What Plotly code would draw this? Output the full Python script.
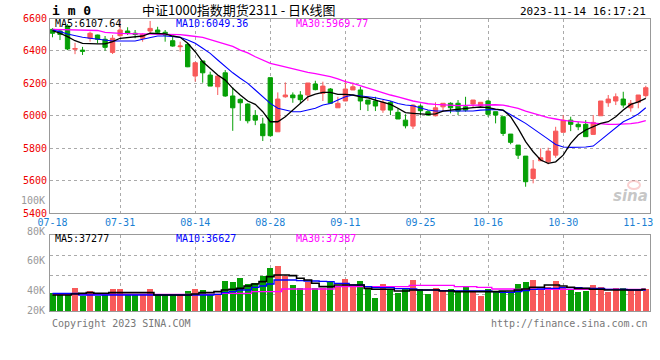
import plotly.graph_objects as go

# ---------------- data ----------------
dates = ["07-18","07-19","07-20","07-21","07-24","07-25","07-26","07-27","07-28","07-31",
         "08-01","08-02","08-03","08-04","08-07","08-08","08-09","08-10","08-11","08-14",
         "08-15","08-16","08-17","08-18","08-21","08-22","08-23","08-24","08-25","08-28",
         "08-29","08-30","08-31","09-01","09-04","09-05","09-06","09-07","09-08","09-11",
         "09-12","09-13","09-14","09-15","09-18","09-19","09-20","09-21","09-22","09-25",
         "09-26","09-27","09-28","10-09","10-10","10-11","10-12","10-13","10-16","10-17",
         "10-18","10-19","10-20","10-23","10-24","10-25","10-26","10-27","10-30","10-31",
         "11-01","11-02","11-03","11-06","11-07","11-08","11-09","11-10","11-13","11-14"]

opens = [6533,6523,6554,6410,6405,6478,6498,6472,6391,6494,6523,6509,6478,6523,6529,6515,6463,6426,6440,6245,
         6338,6251,6179,6265,6122,6101,6072,6002,5949,6235,5901,6117,6128,6128,6128,6196,6138,6165,6049,6091,
         6159,6159,6097,6091,6035,6083,6021,5973,5936,6060,6025,6000,6055,6077,6077,6055,6072,6062,6091,6025,
         5994,5887,5819,5751,5613,5722,5716,5757,5898,5973,5947,5947,5885,6000,6080,6091,6103,6049,6083,6124]
highs = [6540,6533,6565,6450,6425,6519,6500,6492,6498,6585,6546,6529,6509,6585,6549,6529,6488,6457,6450,6333,
         6338,6272,6251,6282,6175,6107,6077,6035,5988,6235,6144,6206,6144,6152,6202,6216,6210,6171,6117,6220,
         6204,6179,6097,6117,6097,6091,6046,6009,6070,6070,6035,6083,6077,6083,6097,6117,6097,6083,6097,6025,
         5994,5887,5819,5751,5727,5799,5803,5932,6004,5994,5963,5973,6004,6091,6128,6138,6148,6097,6128,6185]
lows = [6484,6467,6405,6380,6375,6457,6447,6401,6381,6488,6498,6478,6457,6509,6509,6457,6426,6395,6300,6210,
        6204,6183,6128,6117,5907,5969,5953,5942,5844,5870,5901,6111,6080,6076,6092,6157,6091,6077,6049,6091,
        6159,6035,6029,6029,6018,6004,5980,5922,5918,6004,6000,5996,6025,6015,6004,6025,6049,6055,5994,5953,
        5875,5824,5733,5562,5583,5722,5700,5741,5898,5905,5911,5871,5885,6000,6055,6066,6049,6025,6046,6111]
closes = [6509,6502,6412,6415,6398,6509,6472,6422,6478,6529,6509,6502,6502,6539,6515,6498,6430,6430,6302,6327,
          6265,6183,6245,6122,6049,6080,5969,5973,5877,5877,6103,6128,6111,6099,6202,6161,6183,6077,6077,6165,
          6179,6091,6072,6060,6083,6035,5980,5938,6066,6031,6004,6049,6077,6049,6029,6035,6097,6083,6009,6004,
          5891,5836,5757,5593,5671,5741,5782,5905,5973,5947,5932,5871,5959,6091,6103,6117,6066,6077,6128,6173]

ma5 = [6525,6509,6488,6463,6447,6444,6444,6444,6457,6478,6482,6488,6492,6509,6509,6505,6492,6484,6447,6395,
       6333,6292,6251,6220,6169,6128,6091,6070,6025,5963,5963,5994,6035,6076,6117,6134,6144,6144,6132,6132,
       6128,6117,6111,6097,6083,6070,6046,6019,6015,6011,6009,6011,6029,6035,6041,6046,6050,6054,6050,6041,
       6035,5994,5922,5840,5778,5727,5706,5716,5757,5830,5881,5912,5932,5953,5963,5994,6035,6070,6086,6107.64]
ma10 = [6529,6519,6504,6492,6484,6478,6472,6467,6461,6461,6461,6461,6472,6484,6492,6492,6488,6484,6467,6447,
        6416,6385,6344,6302,6265,6231,6200,6159,6117,6076,6046,6035,6025,6025,6035,6046,6066,6076,6097,6117,
        6128,6124,6117,6111,6103,6091,6076,6066,6062,6050,6035,6029,6029,6025,6025,6025,6029,6035,6039,6039,
        6033,6009,5980,5953,5922,5891,5856,5823,5807,5805,5805,5807,5813,5850,5891,5928,5963,5984,6011,6049.36]
ma30 = [6533,6532,6531,6530,6530,6528,6526,6515,6510,6508,6507,6506,6506,6505,6505,6504,6502,6500,6495,6488,
        6483,6470,6457,6445,6428,6405,6388,6364,6344,6323,6313,6302,6288,6276,6268,6260,6251,6241,6227,6210,
        6200,6185,6173,6159,6144,6128,6116,6103,6091,6083,6074,6070,6066,6062,6062,6064,6066,6068,6070,6068,
        6066,6058,6046,6029,6015,6000,5988,5980,5971,5967,5963,5957,5951,5949,5947,5947,5947,5951,5957,5969.77]

volume = [34050,33250,33250,38550,32190,35900,32190,32720,37490,37490,33250,33250,33250,37490,32720,32720,32720,32720,35900,37490,
          36700,33250,33250,43850,43320,46500,41470,42530,48090,54450,56040,48090,40670,38550,42790,38020,38550,43320,39350,45440,
          39350,43850,38550,30340,41470,37230,34580,38020,44650,37230,33520,38550,36700,37230,35370,39350,36170,31930,37230,35900,
          35900,34840,41470,43320,44650,37230,39350,43850,39350,37230,35110,35900,40670,38820,35370,38290,38290,37230,36700,37490]
vma5 = [32720,32720,32720,33520,34050,34580,34050,34050,34580,34580,34580,34580,34580,34580,32720,32720,32720,32720,32720,33520,
        34580,34580,35370,36700,37230,38020,39880,41470,43320,47300,48620,48620,48090,45970,44650,42000,39350,39350,40670,40670,
        40670,40670,38020,37230,37230,37230,35900,35900,36700,36700,36700,36700,35900,35900,35370,35370,35370,35370,35370,35370,
        35900,35900,36700,37490,38820,38820,40670,40670,39880,38820,38020,38020,37230,37230,36700,36700,36700,36700,36700,37277]
vma10 = [34050,34050,34050,34050,32720,32720,32720,32720,32720,32720,32720,32720,32720,32720,32720,32720,32720,32720,32720,32720,
         32720,32720,33250,34580,35370,36700,36700,38820,39880,41470,44650,44650,44650,44120,43850,43850,43590,43320,42000,42000,
         40670,40670,39350,38550,38550,38550,37760,37760,37490,36700,36700,36700,36170,36170,35900,35900,35900,35900,35900,35370,
         34840,34840,35370,36170,37230,37490,38020,38020,38550,38550,38550,38020,38020,38020,37230,37230,37230,36700,36700,36627]
vma30 = [33250,33250,33250,33250,33250,33250,33250,33250,33250,33250,33250,33250,33250,33250,33250,33250,33250,33250,33250,33250,
         33250,33250,33250,34050,34050,34050,34050,35370,35370,35370,35370,37490,37490,37490,37490,37490,37490,37490,39350,39350,
         39350,39350,39350,39350,39350,39350,39350,39350,40400,40400,40400,40400,40400,40400,39350,39350,39350,38820,38820,37490,
         37490,37490,37230,37230,37230,37230,37230,37230,37230,37230,37230,37230,37230,37230,37230,37230,37230,37230,37230,37387]

tick_labels = ["07-18","07-31","08-14","08-28","09-11","09-25","10-16","10-30","11-13"]
price_ticks = [5400, 5600, 5800, 6000, 6200, 6400, 6600]

title_text = "中证1000指数期货2311 - 日K线图"
code_text = "i m 0"
time_text = "2023-11-14 16:17:21"

# ---------------- styling ----------------
W, H = 660, 360
RED = "#f85a5a"
GREEN = "#06a006"
GRID = "#aaaaaa"
FRAME = "#999999"
MONO = "DejaVu Sans Mono"
X0, X1 = 50, 650
P_TOP, P_BOT = 18.5, 213
V_TOP, V_BOT = 235, 311

def px(x):
    return x / W

def py(y):
    return 1 - y / H

idx = list(range(len(dates)))
tickidx = [dates.index(t) for t in tick_labels]
grididx = tickidx[1:-1]
step = 7.51
first_c = 52.5
xr = [(X0 - first_c) / step, (X1 - first_c) / step]

fig = go.Figure()

fig.add_trace(go.Candlestick(
    x=idx, open=opens, high=highs, low=lows, close=closes,
    increasing=dict(line=dict(color=RED, width=1), fillcolor=RED),
    decreasing=dict(line=dict(color=GREEN, width=1), fillcolor=GREEN),
    whiskerwidth=0, showlegend=False, hoverinfo="skip", xaxis="x", yaxis="y"))

for vals, col, wdt in [(ma30, "#ff00ff", 1.3), (ma10, "#0000ff", 1.1), (ma5, "#000000", 1.3)]:
    fig.add_trace(go.Scatter(x=idx, y=vals, mode="lines", line=dict(color=col, width=wdt),
                             showlegend=False, hoverinfo="skip", xaxis="x", yaxis="y"))

bar_colors = [RED if c >= o else GREEN for o, c in zip(opens, closes)]
fig.add_trace(go.Bar(x=idx, y=volume, marker=dict(color=bar_colors, line=dict(width=0)), width=0.8,
                     showlegend=False, hoverinfo="skip", xaxis="x2", yaxis="y2"))
for vals, col, wdt in [(vma30, "#ff00ff", 1.3), (vma10, "#0000ff", 1.3), (vma5, "#000000", 1.6)]:
    fig.add_trace(go.Scatter(x=idx, y=vals, mode="lines", line=dict(color=col, width=wdt, shape="hvh"),
                             showlegend=False, hoverinfo="skip", xaxis="x2", yaxis="y2"))

xcommon = dict(domain=[px(X0), px(X1)], range=xr, showgrid=False, zeroline=False, automargin=False,
               showline=True, mirror=True, linecolor=FRAME, linewidth=1, ticks="",
               minor=dict(tickvals=grididx, showgrid=True, gridcolor=GRID, griddash="dot", gridwidth=1, ticks=""),
               rangeslider=dict(visible=False), fixedrange=True)

fig.update_layout(
    width=W, height=H, margin=dict(l=0, r=0, t=0, b=0, autoexpand=False),
    paper_bgcolor="white", plot_bgcolor="white",
    xaxis=dict(xcommon, anchor="y", tickvals=tickidx, ticktext=tick_labels,
               tickfont=dict(family=MONO, size=10, color="#1a7fd4")),
    yaxis=dict(domain=[py(P_BOT), py(P_TOP)], range=[5400, 6600], tickvals=price_ticks,
               tickfont=dict(family=MONO, size=10, color="#ee0000"), showgrid=True, gridcolor=GRID,
               griddash="dot", zeroline=False, showline=True, mirror=True, linecolor=FRAME, ticks="",
               anchor="x", fixedrange=True, automargin=False),
    xaxis2=dict(xcommon, anchor="y2", matches="x", showticklabels=False),
    yaxis2=dict(domain=[py(V_BOT), py(V_TOP)], range=[20000, 80400], tickvals=[32720, 48380, 63960],
                showticklabels=False, showgrid=True, gridcolor=GRID, griddash="dot", zeroline=False,
                showline=True, mirror=True, linecolor=FRAME, ticks="", anchor="x2", fixedrange=True,
                automargin=False),
    bargap=0, boxgap=0.18, showlegend=False,
)

ann = []
def text(x, y, s, color="#000", size=10, xanchor="left", family=MONO, bold=False):
    ann.append(dict(x=px(x), y=py(y), xref="paper", yref="paper", text=("<b>%s</b>" % s) if bold else s,
                    showarrow=False, xanchor=xanchor, yanchor="middle",
                    font=dict(family=family, size=size, color=color)))

text(50, 10.5, code_text, size=13, bold=True)
text(140, 9.5, title_text, size=13, family="Noto Sans CJK SC")
text(648, 11, time_text, size=11, xanchor="right")
text(53, 24, "MA5:%.2f" % ma5[-1])
text(174, 24, "MA10:%.2f" % ma10[-1], color="#0000ff")
text(294, 24, "MA30:%.2f" % ma30[-1], color="#ff00ff")
text(53, 238.5, "MA5:%d" % vma5[-1])
text(174, 238.5, "MA10:%d" % vma10[-1], color="#0000ff")
text(294, 238.5, "MA30:%d" % vma30[-1], color="#ff00ff")
for lab, yy in [("100K", 200), ("80K", 231.5), ("60K", 260.7), ("40K", 290.7), ("20K", 310.7)]:
    text(46.5, yy, lab, color="#999999", xanchor="right")
text(50, 323.5, "Copyright 2023 SINA.COM", color="#777777")
text(650, 323.5, "http://finance.sina.com.cn", color="#777777", xanchor="right")
ann.append(dict(x=px(650), y=py(196), xref="paper", yref="paper", text="<b><i>sina</i></b>",
                showarrow=False, xanchor="right", yanchor="middle",
                font=dict(family="DejaVu Sans", size=15, color="rgba(150,150,150,0.55)")))
fig.update_layout(annotations=ann)
fig.add_shape(type="circle", xref="paper", yref="paper",
              x0=px(628), x1=px(640), y0=py(189), y1=py(181),
              line=dict(color="rgba(240,120,120,0.35)", width=2), fillcolor="rgba(0,0,0,0)")

fig.write_html("out.html", config={"displayModeBar": False},
               post_script="document.body.style.margin='0';document.body.style.padding='0';")
